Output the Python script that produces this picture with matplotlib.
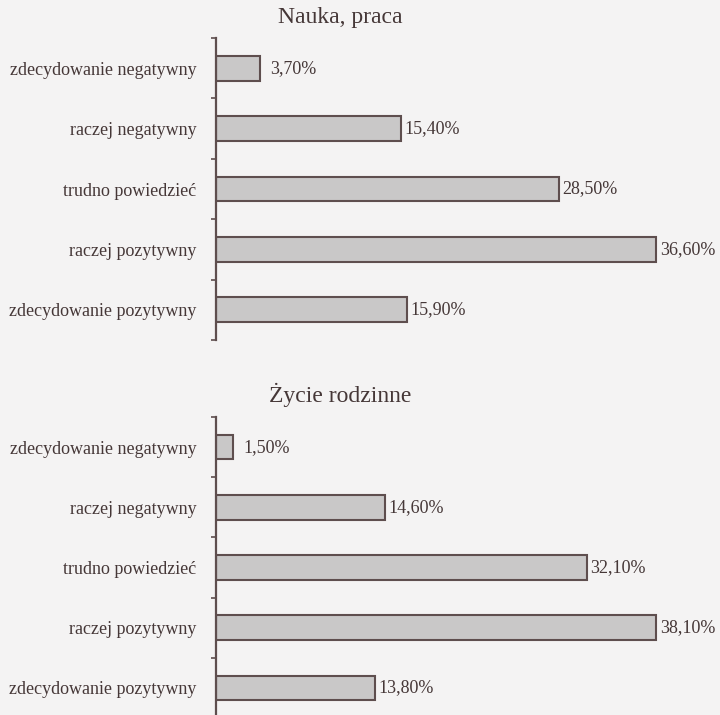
import matplotlib
matplotlib.use("Agg")
import matplotlib.pyplot as plt
import numpy as np

categories = ["zdecydowanie negatywny", "raczej negatywny", "trudno powiedzieć",
              "raczej pozytywny", "zdecydowanie pozytywny"]
nauka_praca = [3.7, 15.4, 28.5, 36.6, 15.9]
zycie_rodzinne = [1.5, 14.6, 32.1, 38.1, 13.8]
titles = ["Nauka, praca", "Życie rodzinne"]

plt.rcParams['font.family'] = ['Liberation Serif', 'DejaVu Serif']

W, H = 720, 715
bg = '#f4f3f3'
fill = '#c9c8c8'
edge = '#5e4e4e'
txt = '#453737'

fig = plt.figure(figsize=(W / 100, H / 100), dpi=100, facecolor=bg)

def px_rect(left, top, right, bottom):
    return [left / W, 1 - bottom / H, (right - left) / W, (bottom - top) / H]

panels = [
    (titles[0], nauka_praca, 38, 340, 18),
    (titles[1], zycie_rodzinne, 417, 718, 395),
]

for title, vals, top, bottom, ty in panels:
    ax = fig.add_axes(px_rect(216, top, 720, bottom))
    ax.set_facecolor('none')
    y = np.arange(len(categories))
    ax.barh(y, vals, height=0.41, color=fill, edgecolor=edge, linewidth=1.5)
    ax.set_xlim(0, max(vals) * 1.145)
    ax.set_ylim(len(categories) - 0.5, -0.5)
    for s in ['top', 'right', 'bottom']:
        ax.spines[s].set_visible(False)
    ax.spines['left'].set_color(edge)
    ax.spines['left'].set_linewidth(1.6)
    ax.set_xticks([])
    ax.set_yticks(y)
    ax.set_yticklabels(categories, fontsize=13, color=txt)
    ax.tick_params(axis='y', which='major', length=0, pad=14)
    ax.set_yticks(np.arange(-0.5, len(categories), 1.0), minor=True)
    ax.tick_params(axis='y', which='minor', length=3.5, width=1.2, color=edge,
                   direction='out')
    for yi, v in zip(y, vals):
        off = 7 if v < 5 else 2.5
        ax.annotate(f"{v:.2f}".replace('.', ',') + '%', xy=(v, yi),
                    xytext=(off, 0), textcoords='offset points',
                    va='center', ha='left', fontsize=13, color=txt)
    fig.text(340 / W, 1 - ty / H, title, ha='center', va='center',
             fontsize=17, color=txt)

fig.savefig("out.png", dpi=100, facecolor=bg)
